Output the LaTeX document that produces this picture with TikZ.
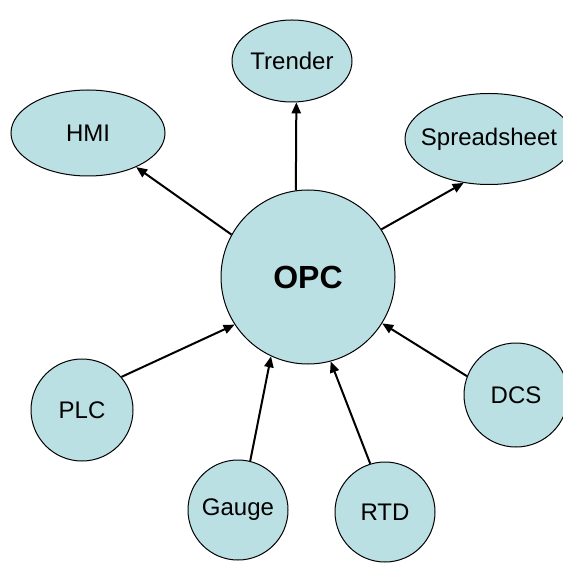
\documentclass[tikz,border=0pt]{standalone}
\usepackage{fontspec}
\setmainfont{Liberation Sans}
\usetikzlibrary{shapes.geometric,arrows.meta}

\definecolor{opcblue}{RGB}{187,224,227}

\begin{document}
\begin{tikzpicture}[x=0.5pt,y=-0.5pt,
  blob/.style={draw,line width=0.5pt,fill=opcblue,inner sep=0pt,
    font=\fontsize{12}{14}\selectfont},
  client/.style={blob,ellipse},
  source/.style={blob,circle,minimum size=50pt},
  link/.style={line width=1pt,-{Triangle[length=5.5pt,width=4.6pt]}}]

% fixed page size, as in the reference
\useasboundingbox (0,0) rectangle (562,566);

% OPC server in the middle
 \node[blob,circle,minimum size=87pt,font=\fontsize{16}{18}\selectfont\bfseries] (opc) at (308,277) {OPC};

% clients (read from OPC)
 \node[client,minimum width=60pt,minimum height=41pt] (trender) at (292,61) {Trender};
 \node[client,minimum width=77pt,minimum height=43pt] (hmi) at (88,133) {HMI};
 \node[client,minimum width=84pt,minimum height=45.5pt] (spreadsheet) at (489,139) {\makebox[0pt]{Spreadsheet}};

% data sources (write to OPC)
 \node[source,minimum size=51pt] (plc) at (82,410) {PLC};
 \node[source] (gauge) at (238,510) {Gauge};
 \node[source] (rtd) at (385,512) {RTD};
 \node[source,minimum size=52pt] (dcs) at (516,395) {DCS};

 \draw[link] (opc.98) -- (trender.276);
 \draw[link] (opc.151) -- (hmi);
 \draw[link] (opc.33) -- (spreadsheet.240);

 \draw[link] (plc.40) -- (opc.213);
 \draw[link] (gauge.76) -- (opc.245);
 \draw[link] (rtd.107) -- (opc.285);
 \draw[link] (dcs.159) -- (opc.328);

\end{tikzpicture}
\end{document}
